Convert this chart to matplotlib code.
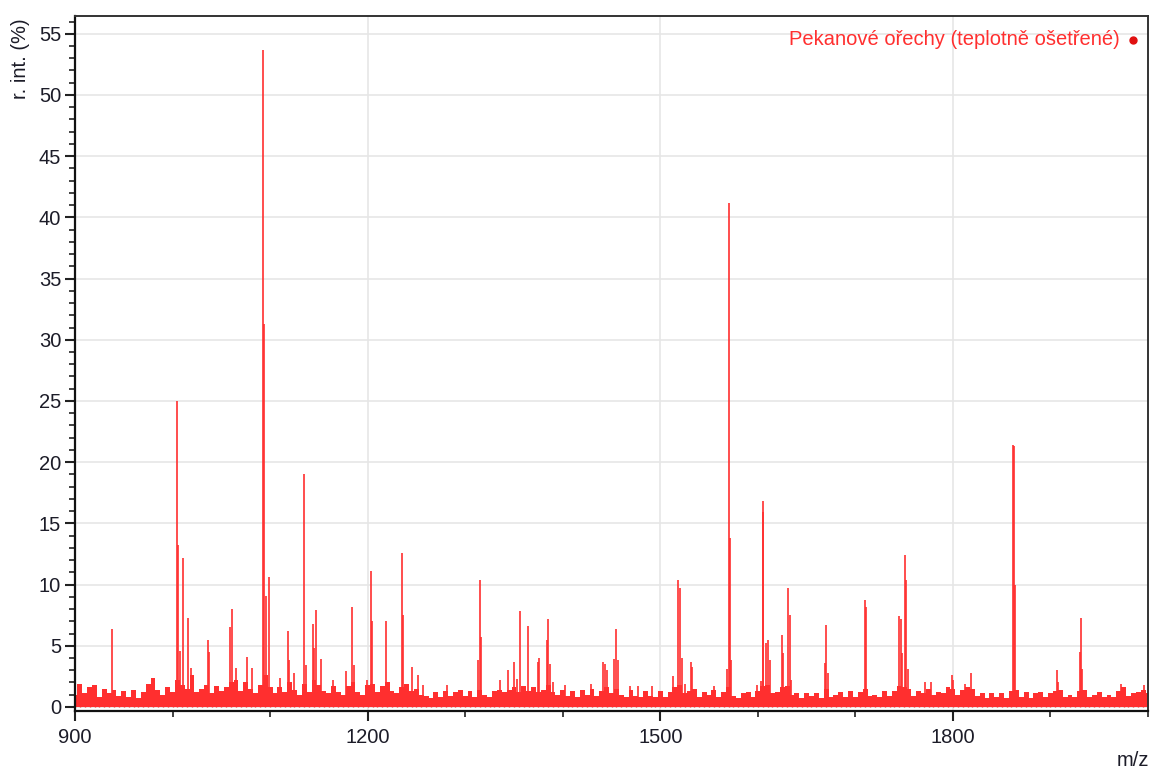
import numpy as np
import matplotlib
matplotlib.use("Agg")
import matplotlib.pyplot as plt
from matplotlib.ticker import MultipleLocator

plt.rcParams['font.family'] = ['Liberation Sans', 'DejaVu Sans']

# noise floor of the spectrum, one reading every 5 m/z from 900 to 2000
base_mz = np.arange(900, 2001, 5)
base_int = [
    1.0, 1.9, 1.1, 1.6, 1.8, 0.8, 1.5, 1.1, 1.4, 0.9, 1.3, 0.8, 1.4, 0.7, 1.2, 1.9, 2.4, 1.4, 1.0, 1.6,
    1.2, 2.2, 1.8, 1.5, 2.6, 1.2, 1.5, 1.8, 1.1, 1.7, 1.3, 1.6, 2.0, 2.2, 1.3, 2.0, 1.5, 1.1, 1.8, 2.6,
    1.6, 1.1, 1.6, 1.2, 2.0, 1.4, 1.0, 1.9, 1.2, 2.2, 1.8, 1.3, 1.1, 1.7, 1.2, 1.0, 1.7, 2.0, 1.2, 1.0,
    1.8, 1.9, 1.2, 1.7, 2.0, 1.3, 1.1, 1.6, 1.9, 1.3, 1.5, 1.0, 0.9, 0.7, 1.2, 0.8, 1.3, 0.9, 1.2, 1.4,
    0.9, 1.3, 0.8, 1.4, 1.0, 0.8, 1.3, 1.4, 1.2, 1.4, 1.6, 1.2, 1.7, 1.3, 1.6, 1.2, 1.4, 1.8, 1.2, 1.0,
    1.4, 0.9, 1.3, 0.8, 1.4, 1.0, 1.5, 0.9, 1.3, 1.6, 1.1, 1.5, 1.0, 0.8, 1.4, 0.9, 0.8, 1.3, 0.9, 0.8,
    1.3, 0.8, 1.2, 1.6, 1.8, 1.1, 1.3, 1.5, 0.8, 1.2, 1.0, 1.4, 0.8, 1.2, 1.6, 0.9, 0.7, 1.1, 1.2, 0.8,
    1.3, 1.7, 1.8, 1.1, 1.2, 1.6, 1.7, 1.0, 1.1, 0.7, 1.1, 0.9, 1.1, 0.7, 1.5, 0.8, 1.0, 1.2, 0.8, 1.3,
    0.8, 1.2, 1.5, 0.9, 1.0, 0.8, 1.3, 0.9, 1.3, 1.7, 1.6, 1.5, 0.9, 1.3, 1.1, 1.5, 1.0, 1.2, 1.1, 1.6,
    1.5, 1.0, 1.4, 1.6, 1.5, 0.9, 1.1, 0.7, 1.1, 0.8, 1.1, 0.7, 1.3, 1.4, 0.8, 1.2, 0.7, 1.1, 1.2, 0.8,
    1.1, 1.3, 1.4, 0.8, 1.0, 0.8, 1.3, 1.4, 0.8, 1.0, 1.2, 0.8, 1.0, 0.8, 1.3, 1.6, 0.9, 1.1, 1.2, 1.4,
    1.1,
]

# picked peaks: m/z and relative intensity (%)
peak_mz = [
    937.9, 1004.3, 1005.3, 1007.2, 1010.4, 1015.6, 1018.6, 1036.7, 1037.7, 1058.9,
    1060.7, 1065.1, 1076.1, 1081.2, 1092.8, 1093.8, 1095.9, 1098.9, 1110.2, 1118.1,
    1119.4, 1124.6, 1135.1, 1136.9, 1143.5, 1145.4, 1146.8, 1152.0, 1164.6, 1177.9,
    1183.7, 1186.1, 1199.1, 1203.2, 1204.5, 1218.9, 1235.0, 1236.6, 1245.3, 1252.0,
    1256.9, 1281.1, 1313.6, 1315.0, 1316.3, 1335.8, 1343.7, 1350.5, 1352.9, 1356.6,
    1364.8, 1374.5, 1375.8, 1384.0, 1385.3, 1387.1, 1390.2, 1402.5, 1429.1, 1441.7,
    1443.5, 1445.2, 1453.0, 1454.8, 1457.1, 1469.1, 1477.6, 1491.4, 1513.5, 1518.6,
    1520.4, 1522.1, 1525.5, 1531.7, 1533.0, 1554.6, 1568.3, 1570.6, 1571.7, 1573.0,
    1599.0, 1603.4, 1604.8, 1605.8, 1608.6, 1610.3, 1612.7, 1624.7, 1626.3, 1630.8,
    1632.5, 1633.9, 1668.4, 1669.8, 1671.5, 1709.4, 1711.4, 1745.0, 1746.7, 1748.3,
    1750.4, 1751.8, 1753.5, 1770.9, 1777.8, 1799.0, 1800.6, 1812.6, 1818.8, 1861.5,
    1862.5, 1863.9, 1906.6, 1908.0, 1929.9, 1931.0, 1932.0, 1972.6, 1995.5,
]
peak_int = [
    6.4, 25.0, 13.2, 4.6, 12.2, 7.3, 3.2, 5.5, 4.5, 6.5,
    8.0, 3.2, 4.1, 3.2, 53.7, 31.3, 9.1, 10.6, 2.4, 6.2,
    3.8, 2.8, 19.0, 3.4, 6.8, 4.8, 7.9, 3.9, 2.2, 2.9,
    8.2, 3.4, 2.2, 11.1, 7.0, 7.0, 12.6, 7.5, 3.3, 2.6,
    1.8, 1.8, 3.8, 10.4, 5.7, 2.2, 3.0, 3.7, 2.3, 7.8,
    6.6, 3.7, 4.0, 5.5, 7.2, 3.5, 2.0, 1.8, 1.9, 3.7,
    3.5, 3.0, 3.9, 6.4, 3.8, 1.7, 1.7, 1.7, 2.5, 10.4,
    9.7, 4.0, 1.9, 3.7, 3.3, 1.7, 3.1, 41.2, 13.8, 3.8,
    1.8, 2.1, 16.8, 15.9, 5.2, 5.5, 3.8, 5.9, 4.4, 9.7,
    7.5, 2.2, 3.6, 6.7, 2.8, 8.7, 8.2, 7.4, 7.2, 4.4,
    12.4, 10.4, 3.1, 2.0, 2.0, 2.6, 2.2, 1.9, 2.8, 21.4,
    21.3, 10.0, 3.0, 2.0, 4.5, 7.3, 3.1, 1.9, 1.8,
]

red = '#ff2f2f'
text_dark = '#1c1c28'

fig = plt.figure(figsize=(11.52, 7.69), dpi=100)
ax = fig.add_axes([75 / 1152, 1 - 711 / 769, 1073 / 1152, 695 / 769])

# noise band under the peaks, drawn as narrow stepped columns
ax.fill_between(base_mz, 0, base_int, step='mid', color=red, lw=0, zorder=2)
ax.vlines(base_mz, 0, base_int, color=red, lw=1.0, zorder=2)
# peaks
ax.vlines(peak_mz, 0, peak_int, color=red, lw=1.2, zorder=3)

ax.set_xlim(900, 2000)
ax.set_ylim(-0.33, 56.45)

ax.xaxis.set_major_locator(MultipleLocator(300))
ax.xaxis.set_minor_locator(MultipleLocator(100))
ax.yaxis.set_major_locator(MultipleLocator(5))
ax.yaxis.set_minor_locator(MultipleLocator(1))

ax.grid(True, which='major', color='#e6e6e6', lw=1.2, zorder=0)
ax.set_axisbelow(True)

ax.tick_params(axis='both', which='major', length=7, width=1.5, color='#222222',
               labelsize=14.5, labelcolor=text_dark, direction='out')
ax.tick_params(axis='both', which='minor', length=4, width=1.2, color='#222222',
               direction='out')
ax.tick_params(axis='y', pad=3)
ax.tick_params(axis='x', pad=5)

for side in ['left', 'bottom']:
    ax.spines[side].set_color('#111111')
    ax.spines[side].set_linewidth(1.6)
for side in ['top', 'right']:
    ax.spines[side].set_color('#333333')
    ax.spines[side].set_linewidth(1.4)

# series label with its marker
ax.text(0.974, 0.9655, 'Pekanové ořechy (teplotně ošetřené)', transform=ax.transAxes,
        ha='right', va='center', color=red, fontsize=14.5)
ax.plot([0.986], [0.9655], marker='o', ms=5, color='#e01010', transform=ax.transAxes,
        clip_on=False)

fig.text(20 / 1152, 1 - 18 / 769, 'r. int. (%)', rotation=90, ha='center', va='top',
         fontsize=14.5, color=text_dark)
fig.text(1133 / 1152, 1 - 760 / 769, 'm/z', ha='center', va='center',
         fontsize=14.5, color=text_dark)

fig.savefig('out.png', dpi=100)
